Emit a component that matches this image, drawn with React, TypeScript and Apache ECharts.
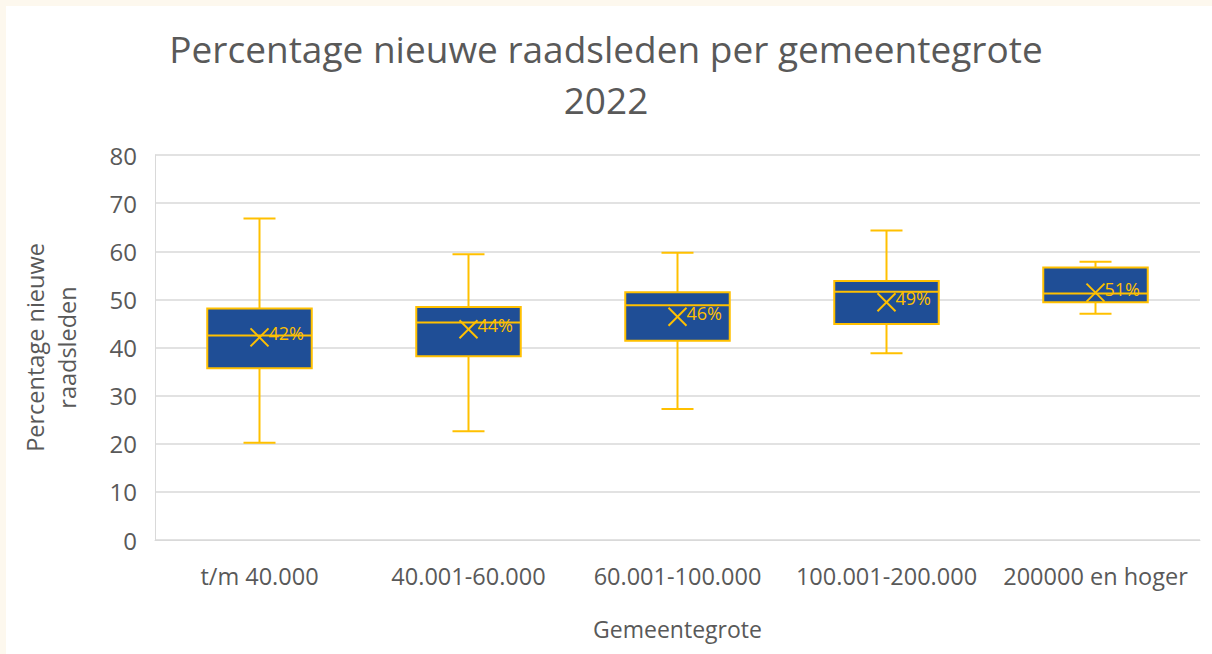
import React, { useEffect, useRef } from "react";
import * as echarts from "echarts";

const categories = ["t/m 40.000", "40.001-60.000", "60.001-100.000", "100.001-200.000", "200000 en hoger"];
const whiskerLow = [20.2, 22.6, 27.2, 38.8, 47.0];
const q1 = [35.7, 38.2, 41.4, 44.9, 49.4];
const median = [42.5, 45.2, 48.8, 51.6, 51.2];
const q3 = [48.1, 48.4, 51.5, 53.8, 56.6];
const whiskerHigh = [66.8, 59.4, 59.7, 64.3, 57.8];
const mean = [42.1, 43.8, 46.4, 49.4, 51.4];
const yTicks = [0, 10, 20, 30, 40, 50, 60, 70, 80];

const BLUE = "#1F4E96";
const GOLD = "#FFC000";
const FONT = "'Open Sans', 'Noto Sans', sans-serif";

export default function App() {
  const ref = useRef<HTMLDivElement>(null);
  useEffect(() => {
    document.body.style.margin = "0";
    const chart = echarts.init(ref.current!, null, { renderer: "svg" });
    const data = categories.map((_, i) => [i, whiskerLow[i], q1[i], median[i], q3[i], whiskerHigh[i], mean[i]]);
    const renderItem = (params: any, api: any) => {
      const idx = api.value(0);
      const band = api.size([1, 0])[0];
      const bw = band * 0.5;
      const cap = 32;
      const pLow = api.coord([idx, api.value(1)]);
      const pQ1 = api.coord([idx, api.value(2)]);
      const pMed = api.coord([idx, api.value(3)]);
      const pQ3 = api.coord([idx, api.value(4)]);
      const pHigh = api.coord([idx, api.value(5)]);
      const pMean = api.coord([idx, api.value(6)]);
      const cx = pMed[0];
      const line = { stroke: GOLD, lineWidth: 2 };
      const m = 9;
      return {
        type: "group",
        children: [
          { type: "line", shape: { x1: cx, y1: pHigh[1], x2: cx, y2: pQ3[1] }, style: line },
          { type: "line", shape: { x1: cx, y1: pLow[1], x2: cx, y2: pQ1[1] }, style: line },
          { type: "line", shape: { x1: cx - cap / 2, y1: pHigh[1], x2: cx + cap / 2, y2: pHigh[1] }, style: line },
          { type: "line", shape: { x1: cx - cap / 2, y1: pLow[1], x2: cx + cap / 2, y2: pLow[1] }, style: line },
          {
            type: "rect",
            shape: { x: cx - bw / 2, y: pQ3[1], width: bw, height: pQ1[1] - pQ3[1] },
            style: { fill: BLUE, stroke: GOLD, lineWidth: 2 },
          },
          { type: "line", shape: { x1: cx - bw / 2, y1: pMed[1], x2: cx + bw / 2, y2: pMed[1] }, style: line },
          { type: "line", shape: { x1: cx - m, y1: pMean[1] - m, x2: cx + m, y2: pMean[1] + m }, style: line },
          { type: "line", shape: { x1: cx - m, y1: pMean[1] + m, x2: cx + m, y2: pMean[1] - m }, style: line },
          {
            type: "text",
            x: cx + 9,
            y: pMean[1] - 4,
            style: {
              text: Math.round(api.value(6)) + "%",
              fill: GOLD,
              font: `18px ${FONT}`,
              align: "left",
              verticalAlign: "middle",
            },
          },
        ],
      };
    };
    chart.setOption({
      animation: false,
      backgroundColor: "#ffffff",
      title: {
        text: "Percentage nieuwe raadsleden per gemeentegrote\n2022",
        left: "center",
        top: 18,
        textStyle: { fontFamily: FONT, fontSize: 37, fontWeight: "normal", color: "#595959", lineHeight: 51 },
      },
      graphic: [
        { type: "rect", shape: { x: 0, y: 0, width: 1212, height: 6 }, style: { fill: "#FDF8EE" }, z: 100 },
        { type: "rect", shape: { x: 0, y: 0, width: 6, height: 654 }, style: { fill: "#FDF8EE" }, z: 100 },
      ],
      grid: { left: 155, right: 12, top: 155, bottom: 114 },
      xAxis: {
        type: "category",
        data: categories,
        name: "Gemeentegrote",
        nameLocation: "middle",
        nameGap: 77,
        nameTextStyle: { fontFamily: FONT, fontSize: 23, color: "#595959" },
        axisLine: { lineStyle: { color: "#D9D9D9", width: 1 } },
        axisTick: { show: false },
        axisLabel: { fontFamily: FONT, fontSize: 23.5, color: "#595959", margin: 24, interval: 0, hideOverlap: false },
      },
      yAxis: {
        type: "value",
        min: 0,
        max: 80,
        interval: 10,
        name: "Percentage nieuwe\nraadsleden",
        nameLocation: "middle",
        nameGap: 72,
        nameTextStyle: { fontFamily: FONT, fontSize: 23.5, color: "#595959", lineHeight: 32 },
        axisLine: { show: true, lineStyle: { color: "#D9D9D9", width: 1 } },
        axisTick: { show: false },
        splitLine: { lineStyle: { color: "#D9D9D9", width: 1.5 } },
        axisLabel: {
          fontFamily: FONT,
          fontSize: 24,
          color: "#595959",
          margin: 18,
          formatter: (v: number) => (yTicks.includes(v) ? String(v) : ""),
        },
      },
      series: [
        {
          type: "custom",
          renderItem,
          data,
          encode: { x: 0, y: [1, 2, 3, 4, 5, 6] },
          z: 10,
        },
      ],
    });
    return () => chart.dispose();
  }, []);
  return <div ref={ref} style={{ width: 1212, height: 654 }} />;
}
